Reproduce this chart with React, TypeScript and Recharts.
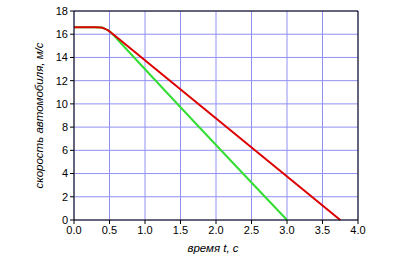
import React from "react";
import { LineChart, Line, XAxis, YAxis, CartesianGrid, ReferenceLine } from "recharts";

const redT = [0, 0.3, 0.38, 0.43, 0.48, 0.52, 0.56, 0.62, 3.75];
const redV = [16.6, 16.6, 16.57, 16.48, 16.33, 16.15, 15.95, 15.65, 0];
const greenT = [0, 0.3, 0.38, 0.43, 0.48, 0.52, 0.56, 0.62, 3.0];
const greenV = [16.6, 16.6, 16.57, 16.48, 16.33, 16.15, 15.9, 15.5, 0];
const xTicks = [0, 0.5, 1, 1.5, 2, 2.5, 3, 3.5, 4];
const yTicks = [0, 2, 4, 6, 8, 10, 12, 14, 16, 18];

const redData = redT.map((t, i) => ({ t, v: redV[i] }));
const greenData = greenT.map((t, i) => ({ t, v: greenV[i] }));

const tickStyle = { fill: "#000", fontSize: 11, fontFamily: "Liberation Sans, Arial, sans-serif" };
const labelStyle = { fill: "#000", fontSize: 11.5, fontStyle: "italic", fontFamily: "Liberation Sans, Arial, sans-serif" };

export default function App() {
  return (
    <div style={{ position: "absolute", left: 0, top: 0, width: 417, height: 257, background: "#fff" }}>
      <LineChart width={417} height={257} margin={{ top: 11, right: 59, left: 34, bottom: 7 }}>
        <CartesianGrid stroke="#9090f4" strokeWidth={1} />
        <XAxis
          type="number"
          dataKey="t"
          domain={[0, 4]}
          ticks={xTicks}
          tickFormatter={(v: number) => v.toFixed(1)}
          height={30}
          stroke="#000"
          tick={tickStyle}
          tickSize={4}
          allowDuplicatedCategory={false}
          label={{ value: "время t, с", position: "insideBottom", offset: -2, dx: -3, style: labelStyle }}
        />
        <YAxis
          type="number"
          domain={[0, 18]}
          ticks={yTicks}
          width={40}
          stroke="#000"
          tick={tickStyle}
          tickSize={4}
          label={{ value: "скорость автомобиля, м/с", angle: -90, position: "insideLeft", offset: 0, dx: 5, style: { ...labelStyle, textAnchor: "middle" } }}
        />
        <ReferenceLine y={18} stroke="#000" />
        <ReferenceLine x={4} stroke="#000" />
        <Line data={greenData} dataKey="v" type="monotone" stroke="#33dd33" strokeWidth={2} dot={false} isAnimationActive={false} />
        <Line data={redData} dataKey="v" type="monotone" stroke="#dd0000" strokeWidth={2} dot={false} isAnimationActive={false} />
      </LineChart>
    </div>
  );
}
